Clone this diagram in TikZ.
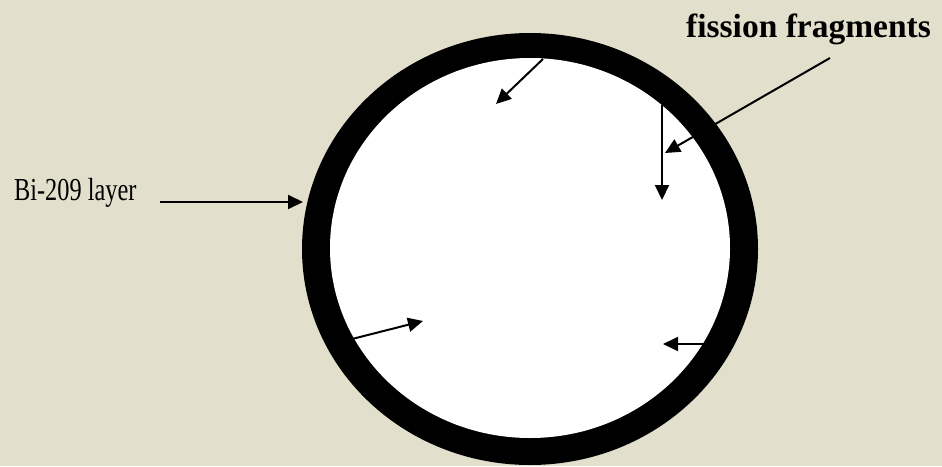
\documentclass[tikz,border=0pt]{standalone}
\usepackage{fontspec}
\setmainfont{Liberation Serif}
\usetikzlibrary{arrows.meta,positioning,calc}
\definecolor{slidebg}{RGB}{226,224,204}

\begin{document}
\begin{tikzpicture}[x=1pt,y=-1pt,
  frag/.style={-{Triangle[length=15pt,width=14pt]}, line width=2pt}]
  % Background
  \fill[slidebg] (0,0) rectangle (942,466);
  \useasboundingbox (0,0) rectangle (942,466);

  % --- Bi-209 shell ---
  \fill[black] (530,249) ellipse [x radius=228pt, y radius=216pt];
  \fill[white] (530,248) ellipse [x radius=200pt, y radius=190pt];

  % --- Labels ---
  \node[font=\fontsize{32}{34}\selectfont, inner sep=0, anchor=base west, xscale=0.76] (bilabel) at (14,200) {Bi-209 layer};
  \node[font=\bfseries\fontsize{33.5}{36}\selectfont, inner sep=0, anchor=base west] (fraglabel) at (686,37) {fission fragments};

  % --- Arrow ends ---
  \coordinate (bitail) at (160,202);
  \coordinate (bitip) at (303,202);
  \coordinate (pointtail) at (830,58);
  \coordinate (pointtip) at (665,153);
  \coordinate (toptail) at (543,59);
  \coordinate (toptip) at (496,104);
  \coordinate (righttail) at (662,105);
  \coordinate (righttip) at (662,200);
  \coordinate (lefttail) at (352,339);
  \coordinate (lefttip) at (423,321);
  \coordinate (lowtail) at (707,344);
  \coordinate (lowtip) at (663,344);

  % --- Pointers ---
  \draw[frag] (bitail) -- (bitip);
  \draw[frag] (pointtail) -- (pointtip);

  % --- Fragment tracks ---
  \draw[frag] (toptail) -- (toptip);
  \draw[frag] (righttail) -- (righttip);
  \draw[frag] (lefttail) -- (lefttip);
  \draw[frag] (lowtail) -- (lowtip);
\end{tikzpicture}
\end{document}
